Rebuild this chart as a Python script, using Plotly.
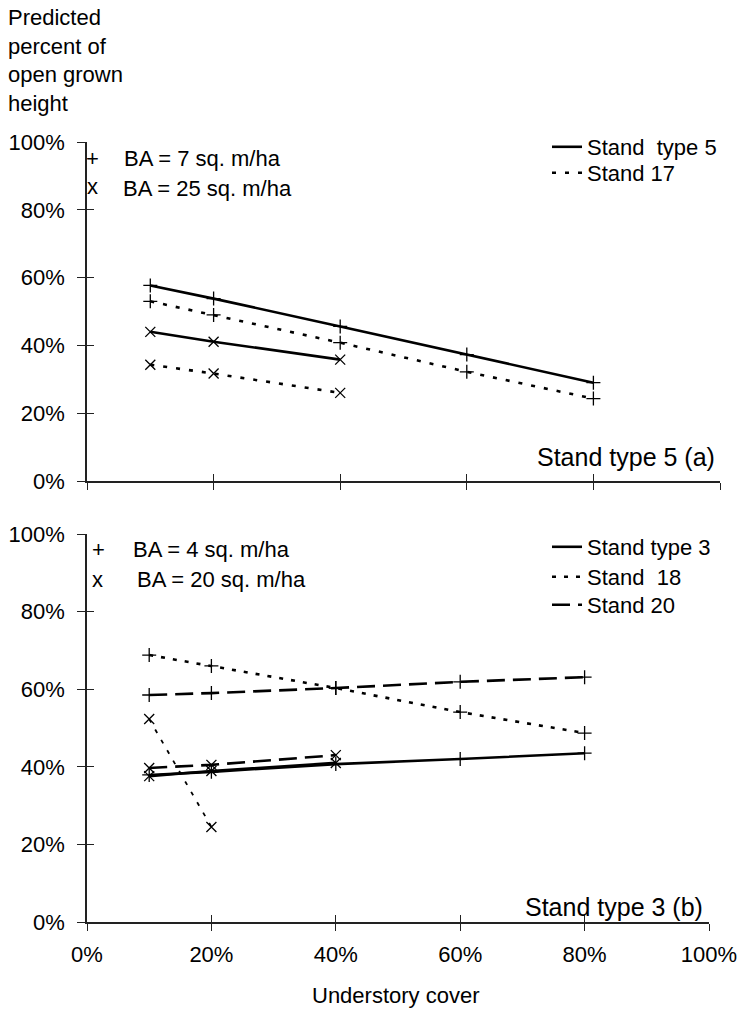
import plotly.graph_objects as go

# ---------------- data ----------------
cover_full = [0.10, 0.20, 0.40, 0.60, 0.80]
cover_short = [0.10, 0.20, 0.40]
cover_two = [0.10, 0.20]

# Panel (a) Stand type 5
a_type5_ba7 = [0.577, 0.538, 0.456, 0.373, 0.290]
a_stand17_ba7 = [0.530, 0.490, 0.408, 0.322, 0.243]
a_type5_ba25 = [0.440, 0.411, 0.358]
a_stand17_ba25 = [0.343, 0.317, 0.260]

# Panel (b) Stand type 3
b_type3_ba4 = [0.379, 0.387, 0.407, 0.420, 0.435]
b_stand18_ba4 = [0.688, 0.660, 0.603, 0.541, 0.487]
b_stand20_ba4 = [0.585, 0.590, 0.603, 0.619, 0.631]
b_type3_ba20 = [0.376, 0.389, 0.410]
b_stand18_ba20 = [0.523, 0.245]
b_stand20_ba20 = [0.397, 0.405, 0.430]

tick_vals = [0, 0.2, 0.4, 0.6, 0.8, 1.0]

W, H = 740, 1012
FONT = "Liberation Sans, Arial, sans-serif"


def px(x):
    return x / W


def py(y):
    return 1 - y / H


SOLID = "solid"
DOT = "4px,9px"
DOT_B = "4px,8px"
DASH = "18px,8px"

fig = go.Figure()


def add_series(xs, ys, dash, width, symbol, xa, ya, name=None, legend=None, show=False):
    fig.add_trace(go.Scatter(
        x=xs, y=ys, mode="lines", name=name or "",
        line=dict(color="black", width=width, dash=dash),
        xaxis=xa, yaxis=ya, showlegend=show, legend=legend, hoverinfo="skip"))
    fig.add_trace(go.Scatter(
        x=xs, y=ys, mode="markers",
        marker=dict(symbol=symbol, size=10, color="black",
                    line=dict(color="black", width=1.3)),
        xaxis=xa, yaxis=ya, showlegend=False, hoverinfo="skip"))


# panel (a)
add_series(cover_full, a_type5_ba7, SOLID, 2.6, "cross-thin", "x", "y",
           name="Stand\u00a0 type 5", legend="legend", show=True)
add_series(cover_full, a_stand17_ba7, DOT, 2.6, "cross-thin", "x", "y",
           name="Stand 17", legend="legend2", show=True)
add_series(cover_short, a_type5_ba25, SOLID, 2.6, "x-thin", "x", "y")
add_series(cover_short, a_stand17_ba25, DOT, 2.6, "x-thin", "x", "y")

# panel (b)
add_series(cover_full, b_type3_ba4, SOLID, 2.6, "cross-thin", "x2", "y2",
           name="Stand type 3", legend="legend3", show=True)
add_series(cover_full, b_stand18_ba4, DOT_B, 2.6, "cross-thin", "x2", "y2",
           name="Stand\u00a0 18", legend="legend4", show=True)
add_series(cover_full, b_stand20_ba4, DASH, 2.6, "cross-thin", "x2", "y2",
           name="Stand 20", legend="legend5", show=True)
add_series(cover_short, b_type3_ba20, SOLID, 2.6, "x-thin", "x2", "y2")
add_series(cover_two, b_stand18_ba20, DOT_B, 1.8, "x-thin", "x2", "y2")
add_series(cover_short, b_stand20_ba20, DASH, 2.6, "x-thin", "x2", "y2")

xa_dom = [px(87), px(720)]
xb_dom = [px(87), px(709)]
ya_dom = [py(481), py(142)]
yb_dom = [py(922), py(534)]

axcol = "#222"
tickfont = dict(family=FONT, size=22, color="black")


def xaxis(dom, anchor, labels):
    return dict(domain=dom, anchor=anchor, range=[0, 1], tickvals=tick_vals,
                tickformat=".0%", showticklabels=labels, ticks="outside", ticklen=7,
                tickwidth=1.3, tickcolor=axcol, showline=True, linecolor=axcol,
                linewidth=1.5, showgrid=False, zeroline=False, tickfont=tickfont,
                ticklabelstandoff=5, fixedrange=True, automargin=False)


def yaxis(dom, anchor):
    return dict(domain=dom, anchor=anchor, range=[0, 1], tickvals=tick_vals,
                tickformat=".0%", ticks="outside", ticklen=8, tickwidth=1.3,
                tickcolor=axcol, showline=True, linecolor=axcol, linewidth=1.5,
                showgrid=False, zeroline=False, tickfont=tickfont,
                ticklabelstandoff=8, fixedrange=True, automargin=False)


def inner_x(dom, over, anchor):
    return dict(domain=dom, overlaying=over, anchor=anchor, range=[0, 1],
                tickvals=tick_vals, showticklabels=False, ticks="inside", ticklen=7,
                tickwidth=1.3, tickcolor=axcol, showline=False, showgrid=False,
                zeroline=False, fixedrange=True, automargin=False)


def inner_y(dom, over, anchor):
    return dict(domain=dom, overlaying=over, anchor=anchor, range=[0, 1],
                tickvals=tick_vals, showticklabels=False, ticks="inside", ticklen=7,
                tickwidth=1.3, tickcolor=axcol, showline=False, showgrid=False,
                zeroline=False, fixedrange=True, side="left", automargin=False)


# dummy invisible traces so overlay axes get drawn
for xa, ya in [("x3", "y"), ("x", "y3"), ("x4", "y2"), ("x2", "y4")]:
    fig.add_trace(go.Scatter(x=[None], y=[None], xaxis=xa, yaxis=ya,
                             showlegend=False, hoverinfo="skip", mode="lines"))

annots = []


def ann(text, x, y, size=22, xanchor="left", yanchor="middle", align="left"):
    annots.append(dict(text=text, x=px(x), y=py(y), xref="paper", yref="paper",
                       xanchor=xanchor, yanchor=yanchor, align=align, showarrow=False,
                       font=dict(family=FONT, size=size, color="black")))


ann("Predicted<br>percent of<br>open grown<br>height", 6, 3, yanchor="top")
ann("+", 92, 158, xanchor="center")
ann("BA = 7 sq. m/ha", 122, 158)
ann("x", 92, 187, xanchor="center")
ann("BA = 25 sq. m/ha", 121, 188)
ann("Stand type 5 (a)", 717, 457, size=25, xanchor="right")

ann("+", 98, 549, xanchor="center")
ann("BA = 4 sq. m/ha", 131, 549)
ann("x", 97, 579, xanchor="center")
ann("BA = 20 sq. m/ha", 135, 579)
ann("Stand type 3 (b)", 705, 907, size=25, xanchor="right")

ann("Understory cover", 396, 995, xanchor="center")

legend_font = dict(family=FONT, size=22, color="black")


def leg(ycenter):
    return dict(x=px(547), y=py(ycenter), xanchor="left", yanchor="middle",
                bgcolor="rgba(0,0,0,0)", borderwidth=0, font=legend_font,
                tracegroupgap=0, itemclick=False, itemdoubleclick=False)


fig.update_layout(
    width=W, height=H, autosize=False,
    margin=dict(l=0, r=0, t=0, b=0, pad=0),
    paper_bgcolor="white", plot_bgcolor="white",
    font=dict(family=FONT, size=22, color="black"),
    xaxis=xaxis(xa_dom, "y", False),
    yaxis=yaxis(ya_dom, "x"),
    xaxis2=xaxis(xb_dom, "y2", True),
    yaxis2=yaxis(yb_dom, "x2"),
    xaxis3=inner_x(xa_dom, "x", "y"),
    yaxis3=inner_y(ya_dom, "y", "x"),
    xaxis4=inner_x(xb_dom, "x2", "y2"),
    yaxis4=inner_y(yb_dom, "y2", "x2"),
    legend=leg(147),
    legend2=leg(173),
    legend3=leg(547),
    legend4=leg(577),
    legend5=leg(605),
    annotations=annots,
    showlegend=True,
)

fig.write_html("out.html")
